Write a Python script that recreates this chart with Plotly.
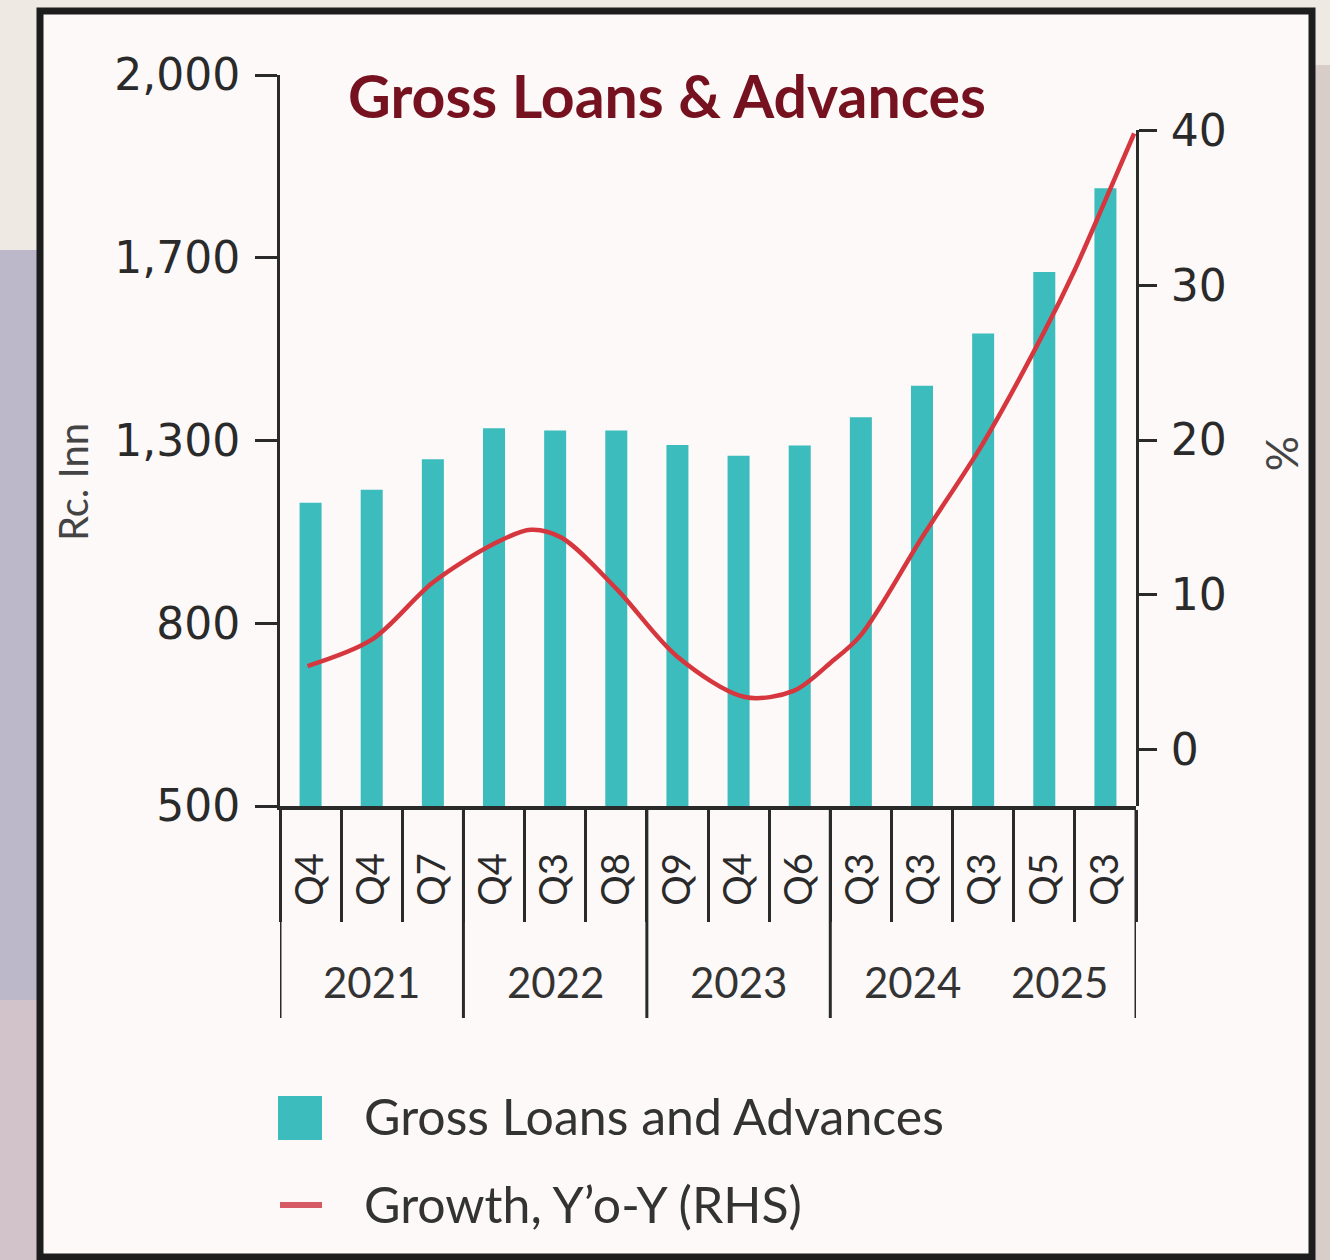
import numpy as np
import plotly.graph_objects as go

# ---- data -------------------------------------------------------------
quarter_labels = ["Q4", "Q4", "Q7", "Q4", "Q3", "Q8", "Q9", "Q4", "Q6",
                  "Q3", "Q3", "Q3", "Q5", "Q3"]
year_labels = ["2021", "2022", "2023", "2024", "2025"]
year_label_pos = [1.0, 4.0, 7.0, 9.85, 12.25]   # label centres on the category scale
year_dividers = [-0.5, 2.5, 5.5, 8.5, 13.5]

loans_rs_bn = [1130, 1165, 1249, 1327, 1322, 1322, 1288, 1258, 1286,
               1351, 1420, 1534, 1669, 1814]

growth_pos = [-0.05, 1.0, 2.0, 3.0, 3.6, 4.1, 5.0, 6.0, 7.1, 7.9, 8.5,
              9.0, 10.0, 11.0, 12.0, 12.5, 13.0, 13.47]
growth_pct = [5.4, 7.1, 10.8, 13.3, 14.2, 13.7, 10.4, 6.0, 3.4, 3.8, 5.6,
              7.4, 13.7, 19.8, 27.0, 31.0, 35.5, 39.8]

# left axis: labelled levels sit at equal spacing (piecewise scale)
left_tick_values = [500, 800, 1300, 1700, 2000]
left_tick_text = ["500", "800", "1,300", "1,700", "2,000"]
right_tick_values = [0, 10, 20, 30, 40]

TEAL = "#3cbcbc"
RED = "#d6373f"
INK = "#2a2a2a"

W, H = 1330, 1260
L, R, T, B = 280, 194, 75, 454
PW, PH = W - L - R, H - T - B


def px_x(px):
    return (px - L) / PW


def px_y(py):
    return (H - B - py) / PH


level_pos = list(range(len(left_tick_values)))
bar_pos = np.interp(loans_rs_bn, left_tick_values, level_pos)
x_idx = list(range(len(quarter_labels)))

fig = go.Figure()

fig.add_trace(go.Bar(
    x=x_idx, y=bar_pos, customdata=loans_rs_bn,
    marker=dict(color=TEAL, line=dict(width=0)),
    name="Gross Loans and Advances", showlegend=False,
    hovertemplate="%{customdata:,} Rs. bn<extra></extra>",
))

fig.add_trace(go.Scatter(
    x=growth_pos, y=growth_pct, yaxis="y2", mode="lines",
    line=dict(color=RED, width=4.5, shape="spline", smoothing=0.9),
    name="Growth, Y'o-Y (RHS)", showlegend=False,
    hovertemplate="%{y:.1f}%<extra></extra>",
))

tick_font = dict(family="DejaVu Sans", size=44, color=INK)

fig.update_layout(
    width=W, height=H, autosize=False,
    margin=dict(l=L, r=R, t=T, b=B, pad=0),
    paper_bgcolor="#efe9e3",
    plot_bgcolor="rgba(0,0,0,0)",
    bargap=0.64,
    showlegend=False,
    xaxis=dict(
        type="linear", range=[-0.5, 13.5],
        tickmode="array", tickvals=x_idx, ticktext=quarter_labels,
        tickangle=-90, ticks="", ticklabelstandoff=28,
        tickfont=dict(family="Lato", size=38, color=INK),
        showline=True, linecolor=INK, linewidth=4,
        showgrid=False, zeroline=False, fixedrange=True,
        minor=dict(tickmode="array",
                   tickvals=[i + 0.5 for i in range(-1, len(quarter_labels))],
                   ticks="outside", ticklen=112, tickwidth=3, tickcolor=INK,
                   showgrid=False),
    ),
    yaxis=dict(
        range=[0, 4], tickmode="array", tickvals=level_pos, ticktext=left_tick_text,
        ticks="outside", ticklen=22, tickwidth=3, tickcolor=INK,
        ticklabelstandoff=6, tickfont=tick_font,
        showline=True, linecolor=INK, linewidth=3,
        showgrid=False, zeroline=False, fixedrange=True,
    ),
    yaxis2=dict(
        anchor="x", side="right", domain=[0, px_y(130.4)],
        range=[-3.64, 40], tickmode="array", tickvals=right_tick_values,
        ticks="outside", ticklen=18, tickwidth=3, tickcolor=INK,
        ticklabelstandoff=5, tickfont=tick_font,
        showline=True, linecolor=INK, linewidth=3,
        showgrid=False, zeroline=False, fixedrange=True,
    ),
)

shapes = [
    # backdrop strips around the card
    dict(type="rect", xref="paper", yref="paper", layer="below",
         x0=px_x(0), x1=px_x(38), y0=px_y(250), y1=px_y(1000),
         fillcolor="#bdb8c9", line=dict(width=0)),
    dict(type="rect", xref="paper", yref="paper", layer="below",
         x0=px_x(0), x1=px_x(38), y0=px_y(1000), y1=px_y(1260),
         fillcolor="#d2c3ca", line=dict(width=0)),
    dict(type="rect", xref="paper", yref="paper", layer="below",
         x0=px_x(1314), x1=px_x(1330), y0=px_y(65), y1=px_y(1260),
         fillcolor="#d9cdca", line=dict(width=0)),
    # card with dark frame
    dict(type="rect", xref="paper", yref="paper", layer="below",
         x0=px_x(40), x1=px_x(1312), y0=px_y(1257), y1=px_y(11),
         fillcolor="#fcf9f8", line=dict(color="#1d1d1d", width=7)),
]

# long dividers between year groups
for d in year_dividers:
    shapes.append(dict(type="line", xref="x", yref="paper",
                       x0=d, x1=d, y0=0, y1=px_y(1018),
                       line=dict(color=INK, width=3)))

# legend keys
shapes.append(dict(type="rect", xref="paper", yref="paper",
                   x0=px_x(278), x1=px_x(322), y0=px_y(1140), y1=px_y(1096),
                   fillcolor=TEAL, line=dict(width=0)))
shapes.append(dict(type="line", xref="paper", yref="paper",
                   x0=px_x(280), x1=px_x(322), y0=px_y(1205), y1=px_y(1205),
                   line=dict(color="#d65a64", width=6)))

annotations = [
    dict(text="Gross Loans & Advances", xref="paper", yref="paper",
         x=px_x(346), y=px_y(96), xanchor="left", yanchor="middle",
         showarrow=False, font=dict(family="Lato", size=59, color="#761220",
                                    weight="bold")),
    dict(text="Rc. Inn", xref="paper", yref="paper",
         x=px_x(73), y=px_y(482), xanchor="center", yanchor="middle",
         textangle=-90, showarrow=False,
         font=dict(family="Lato", size=40, color="#444444")),
    dict(text="%", xref="paper", yref="paper",
         x=px_x(1283), y=px_y(453), xanchor="center", yanchor="middle",
         textangle=90, showarrow=False,
         font=dict(family="Lato", size=44, color="#444444")),
    dict(text="Gross Loans and Advances", xref="paper", yref="paper",
         x=px_x(362), y=px_y(1116), xanchor="left", yanchor="middle",
         showarrow=False, font=dict(family="Lato", size=50, color="#333333")),
    dict(text="Growth, Y’o-Y (RHS)", xref="paper", yref="paper",
         x=px_x(362), y=px_y(1204), xanchor="left", yanchor="middle",
         showarrow=False, font=dict(family="Lato", size=50, color="#333333")),
]

for label, pos in zip(year_labels, year_label_pos):
    annotations.append(dict(text=label, xref="x", yref="paper",
                            x=pos, y=px_y(982), xanchor="center", yanchor="middle",
                            showarrow=False,
                            font=dict(family="Lato", size=42, color="#333333")))

fig.update_layout(shapes=shapes, annotations=annotations)

fig.write_html("out.html")
